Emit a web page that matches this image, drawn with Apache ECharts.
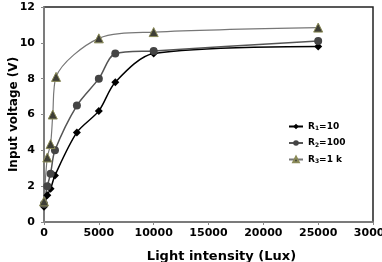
<!DOCTYPE html>
<html>
<head>
<meta charset="utf-8">
<script src="https://cdn.jsdelivr.net/npm/echarts@6/dist/echarts.min.js"></script>
<style>
  html, body { margin: 0; padding: 0; background: #fff; }
</style>
</head>
<body>
<div id="main" style="width: 382px; height: 262px"></div>
<script>
// readings: [light intensity (Lux), input voltage (V)]
const r1Data = [[0, 0.85], [300, 1.5], [600, 1.85], [1000, 2.6], [3000, 5.0], [5000, 6.2], [6500, 7.8], [10000, 9.4], [25000, 9.8]];
const r2Data = [[0, 1.0], [300, 2.0], [600, 2.7], [1000, 4.0], [3000, 6.5], [5000, 8.0], [6500, 9.4], [10000, 9.55], [25000, 10.1]];
const r3Data = [[0, 1.15], [300, 3.6], [600, 4.35], [800, 6.0], [1100, 8.1], [5000, 10.25], [10000, 10.6], [25000, 10.85]];
const seriesNames = ["R1", "R2", "R3"];
const legendLabels = { R1: ["1", "=10"], R2: ["2", "=100"], R3: ["3", "=1 k"] };

const chart = echarts.init(document.getElementById("main"));
const font = "'DejaVu Sans', sans-serif";

chart.setOption({
  animation: false,
  grid: {
    left: 44,
    right: 9,
    top: 7,
    bottom: 40,
    outerBoundsMode: "none",
    containLabel: false,
    show: true,
    borderColor: "#222",
    borderWidth: 1.5
  },
  legend: {
    orient: "vertical",
    left: 283,
    top: 117,
    itemWidth: 14,
    itemHeight: 7,
    itemGap: 7,
    data: seriesNames,
    formatter: function (name) {
      const l = legendLabels[name];
      return "{b|R}{s|" + l[0] + "}{b|" + l[1] + "}";
    },
    textStyle: {
      rich: {
        b: { fontFamily: font, fontWeight: "bold", fontSize: 9, color: "#000" },
        s: { fontFamily: font, fontWeight: "bold", fontSize: 6, color: "#000", verticalAlign: "bottom", padding: [4, 0, 0, 0] }
      }
    }
  },
  xAxis: {
    type: "value",
    min: 0,
    max: 30000,
    interval: 5000,
    name: "Light intensity (Lux)",
    nameLocation: "center",
    nameMoveOverlap: false,
    nameGap: 28,
    nameTextStyle: { fontFamily: font, fontWeight: "bold", fontSize: 13, color: "#000", padding: [0, 0, 0, 26] },
    splitLine: { show: false },
    axisLine: { lineStyle: { color: "#888", width: 1.5 } },
    axisTick: { lineStyle: { color: "#888" }, length: 3 },
    axisLabel: {
      fontFamily: font, fontWeight: "bold", fontSize: 11, color: "#000", margin: 6,
      formatter: function (v) { return String(v); }
    }
  },
  yAxis: {
    type: "value",
    min: 0,
    max: 12,
    interval: 2,
    name: "Input voltage (V)",
    nameLocation: "center",
    nameMoveOverlap: false,
    nameGap: 24,
    nameTextStyle: { fontFamily: font, fontWeight: "bold", fontSize: 12, color: "#000" },
    splitLine: { show: false },
    axisLine: { show: true, lineStyle: { color: "#888", width: 1.5 } },
    axisTick: { show: true, lineStyle: { color: "#888" }, length: 3 },
    axisLabel: { fontFamily: font, fontWeight: "bold", fontSize: 11, color: "#000", margin: 9 }
  },
  series: [
    {
      name: "R1",
      type: "line",
      data: r1Data,
      smooth: 0.3,
      symbol: "diamond",
      symbolSize: 8,
      itemStyle: { color: "#000" },
      lineStyle: { color: "#000", width: 1.5 }
    },
    {
      name: "R2",
      type: "line",
      data: r2Data,
      smooth: 0.3,
      symbol: "circle",
      symbolSize: 8,
      itemStyle: { color: "#444" },
      lineStyle: { color: "#555", width: 1.5 }
    },
    {
      name: "R3",
      type: "line",
      data: r3Data,
      smooth: 0.3,
      symbol: "triangle",
      symbolSize: 9,
      itemStyle: { color: "#3e3e36", borderColor: "#8a8a58", borderWidth: 1 },
      lineStyle: { color: "#777", width: 1.2 }
    }
  ]
});
</script>
</body>
</html>
